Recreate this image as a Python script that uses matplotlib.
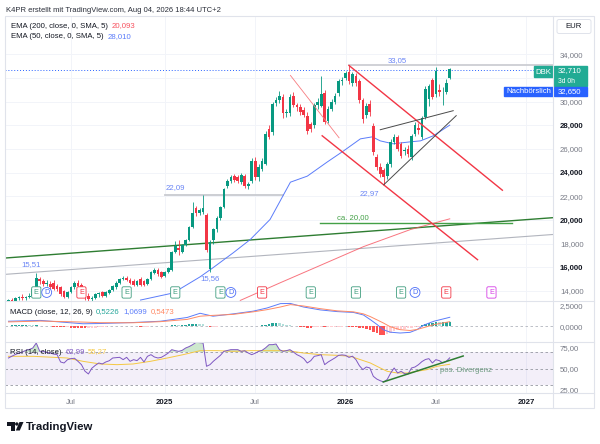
import numpy as np
import pandas as pd
import matplotlib
matplotlib.use("Agg")
import matplotlib.pyplot as plt
import matplotlib.dates as mdates
from matplotlib.patches import Rectangle, Polygon, Circle, FancyBboxPatch

plt.rcParams['font.family'] = ['Liberation Sans', 'DejaVu Sans']

# Wochenkerzen DBK
weeks = pd.date_range('2024-02-26', periods=128, freq='7D')

opens = [12.9, 13.2, 13.1, 13.4, 13.5, 13.4, 13.5, 13.6, 14.2, 15.0,
         14.8, 14.6, 14.6, 14.7, 14.4, 14.3, 14.0, 13.5, 13.9, 14.3,
         14.7, 14.5, 14.2, 13.6, 13.3, 13.4, 13.7, 13.9, 13.6, 13.8,
         14.1, 14.3, 14.7, 15.0, 15.1, 14.9, 14.8, 14.5, 15.0, 14.8,
         14.6, 15.0, 15.5, 15.8, 15.6, 15.3, 15.6, 15.8, 17.3, 17.6,
         17.3, 17.9, 18.3, 19.4, 21.0, 20.6, 20.7, 20.4, 15.85, 18.3,
         19.2, 20.2, 21.1, 22.9, 23.3, 23.7, 23.6, 23.2, 23.7, 22.9,
         23.3, 25.0, 23.6, 24.3, 24.7, 27.7, 27.4, 29.9, 30.1, 30.4,
         29.0, 29.0, 30.5, 29.7, 29.5, 29.3, 28.8, 28.1, 28.0, 29.7,
         29.6, 30.7, 28.4, 29.4, 30.0, 30.7, 31.7, 32.0, 32.5, 31.6,
         32.2, 31.7, 30.1, 28.9, 29.8, 27.9, 25.3, 24.5, 24.2, 23.7,
         24.7, 26.6, 27.0, 26.4, 25.8, 26.0, 25.3, 27.3, 27.8, 27.0,
         28.7, 30.2, 31.8, 30.6, 31.0, 30.7, 30.8, 32.0]
highs = [13.3, 13.4, 13.5, 13.6, 13.7, 13.6, 13.8, 14.3, 15.5, 15.2,
         15.0, 14.9, 14.8, 14.9, 14.6, 14.4, 14.1, 14.0, 14.4, 14.8,
         14.9, 14.7, 14.3, 13.8, 13.6, 13.8, 13.9, 14.0, 14.0, 14.2,
         14.5, 14.8, 15.1, 15.3, 15.3, 15.1, 15.0, 14.9, 15.2, 14.9,
         15.1, 15.7, 15.9, 15.9, 15.7, 15.7, 16.0, 17.4, 18.2, 18.3,
         18.0, 18.4, 19.5, 21.5, 21.2, 21.0, 22.09, 20.6, 18.3, 19.3,
         20.3, 21.2, 22.7, 23.5, 23.8, 23.9, 23.8, 24.0, 23.9, 23.2,
         25.2, 25.3, 24.7, 25.2, 27.5, 28.0, 30.0, 30.4, 30.9, 30.6,
         29.4, 30.6, 30.8, 29.9, 29.8, 29.5, 29.1, 28.3, 29.9, 30.3,
         32.2, 31.0, 29.6, 30.2, 30.7, 31.9, 32.1, 32.6, 33.05, 32.5,
         32.4, 31.9, 30.3, 29.9, 30.1, 28.2, 25.6, 24.8, 24.4, 24.9,
         26.8, 27.3, 27.2, 26.6, 26.2, 26.3, 27.3, 28.3, 28.2, 28.8,
         31.3, 31.5, 32.0, 32.9, 31.5, 31.2, 31.9, 32.8]
lows = [12.7, 12.9, 13.0, 13.2, 13.2, 13.2, 13.4, 13.5, 14.1, 14.6,
        14.4, 14.4, 14.2, 14.1, 14.0, 13.6, 13.4, 13.4, 13.8, 14.2,
        14.3, 14.0, 13.2, 13.1, 13.1, 13.3, 13.5, 13.5, 13.5, 13.7,
        14.0, 14.2, 14.6, 14.9, 14.8, 14.6, 14.4, 14.4, 14.4, 14.4,
        14.5, 14.9, 15.4, 15.3, 15.1, 15.2, 15.5, 15.7, 17.2, 17.0,
        17.2, 17.8, 18.2, 19.3, 20.3, 20.4, 20.5, 17.3, 15.56, 18.0,
        19.0, 20.0, 21.0, 22.7, 23.1, 23.2, 23.1, 23.0, 22.7, 22.6,
        23.1, 23.4, 23.3, 24.1, 24.6, 26.8, 27.2, 29.6, 29.9, 28.6,
        28.7, 28.8, 29.5, 29.2, 28.9, 28.7, 27.3, 27.4, 27.8, 29.4,
        29.5, 28.1, 28.2, 29.2, 29.8, 30.5, 31.4, 31.8, 31.5, 31.3,
        31.3, 29.9, 28.2, 28.6, 28.8, 25.5, 24.2, 23.6, 22.97, 23.5,
        24.5, 26.4, 25.8, 25.2, 25.5, 25.3, 25.1, 27.1, 27.3, 26.8,
        28.5, 29.6, 30.2, 30.4, 30.5, 29.7, 30.6, 31.9]
closes = [13.2, 13.1, 13.4, 13.5, 13.4, 13.5, 13.6, 14.2, 15.1, 14.8,
          14.6, 14.7, 14.3, 14.2, 14.2, 13.7, 13.5, 13.9, 14.3, 14.7,
          14.4, 14.2, 13.7, 13.3, 13.4, 13.7, 13.8, 13.6, 13.9, 14.1,
          14.4, 14.7, 15.0, 15.1, 14.9, 14.7, 14.5, 14.8, 14.5, 14.5,
          15.0, 15.6, 15.8, 15.4, 15.2, 15.6, 15.9, 17.3, 17.8, 17.5,
          17.9, 18.3, 19.4, 20.6, 20.6, 20.8, 21.0, 17.5, 18.1, 19.2,
          20.2, 21.1, 22.6, 23.3, 23.6, 23.4, 23.3, 23.8, 22.9, 23.0,
          25.0, 23.6, 24.5, 25.0, 27.3, 27.0, 29.8, 30.1, 30.5, 29.0,
          29.1, 30.4, 29.7, 29.5, 29.1, 28.9, 27.5, 27.7, 29.7, 30.0,
          30.6, 28.3, 29.4, 30.0, 30.5, 31.7, 31.8, 32.4, 31.7, 32.3,
          31.6, 30.1, 28.5, 29.6, 29.1, 25.7, 24.5, 23.9, 23.6, 24.7,
          26.6, 27.0, 26.0, 25.4, 25.9, 25.6, 27.1, 28.0, 27.6, 28.6,
          31.1, 31.3, 30.4, 32.6, 30.8, 30.7, 31.6, 32.71]

ema50_dates = ['2024-11-18', '2025-01-23', '2025-03-18', '2025-04-13', '2025-05-24',
               '2025-06-27', '2025-08-06', '2025-09-16', '2025-10-20', '2025-11-29',
               '2026-01-01', '2026-02-04', '2026-02-28', '2026-03-16', '2026-04-11',
               '2026-05-16', '2026-06-05', '2026-07-01', '2026-08-03']
ema50_vals = [13.23, 13.83, 15.19, 15.96, 17.23, 18.34, 20.04, 23.19, 23.70, 24.89,
              25.83, 26.85, 27.02, 26.68, 26.43, 26.60, 26.68, 27.11, 28.01]
ema200_dates = ['2025-06-07', '2025-08-27', '2025-10-26', '2026-02-10', '2026-05-16', '2026-08-03']
ema200_vals = [13.2, 14.7, 15.79, 17.74, 19.19, 20.093]

macd_dates = ['2024-02-26', '2024-04-30', '2024-06-23', '2024-07-25', '2024-08-29',
              '2024-11-03', '2024-12-28', '2025-02-20', '2025-03-18', '2025-04-13',
              '2025-05-24', '2025-07-03', '2025-07-31', '2025-08-27', '2025-09-16',
              '2025-10-12', '2025-11-15', '2025-12-19', '2026-01-21', '2026-02-10',
              '2026-02-24', '2026-03-10', '2026-03-22', '2026-04-05', '2026-04-25',
              '2026-05-15', '2026-05-29', '2026-06-12', '2026-07-02', '2026-08-03']
macd_vals = [0.60, 0.70, 0.45, 0.30, 0.33, 0.45, 0.60, 1.05, 1.55, 1.20,
             1.48, 1.80, 2.18, 2.70, 2.72, 2.30, 1.95, 1.75, 1.65, 1.35,
             0.79, 0.19, -0.40, -0.70, -0.80, -0.72, -0.40, 0.15, 0.60, 1.0699]
signal_vals = [0.52, 0.62, 0.55, 0.50, 0.43, 0.42, 0.55, 0.82, 1.20, 1.30,
               1.42, 1.72, 1.98, 2.30, 2.58, 2.42, 2.10, 1.84, 1.72, 1.48,
               1.15, 0.75, 0.40, -0.05, -0.40, -0.50, -0.38, -0.15, 0.20, 0.5473]
hist_vals = [0.08, 0.10, 0.10, 0.12, 0.15, 0.15, 0.12, 0.10, 0.12, 0.08,
             0.05, 0.03, 0.02, -0.03, -0.06, -0.08, -0.12, -0.12, -0.15, -0.18,
             -0.20, -0.22, -0.25, -0.25, -0.20, -0.15, -0.10, -0.08, -0.05, -0.02,
             0.02, 0.05, 0.08, 0.08, 0.05, 0.02, 0.00, -0.02, -0.05, -0.05,
             -0.03, 0.00, 0.03, 0.02, 0.02, 0.03, 0.06, 0.12, 0.15, 0.14,
             0.15, 0.18, 0.22, 0.30, 0.32, 0.30, 0.28, 0.05, -0.10, -0.08,
             -0.03, 0.02, 0.05, 0.08, 0.08, 0.06, 0.05, 0.05, 0.03, 0.03,
             0.08, 0.06, 0.08, 0.10, 0.20, 0.25, 0.35, 0.38, 0.35, 0.25,
             0.18, 0.15, 0.08, 0.02, -0.05, -0.10, -0.15, -0.18, -0.12, -0.10,
             -0.08, -0.12, -0.12, -0.10, -0.08, -0.05, -0.03, -0.02, -0.05, -0.06,
             -0.08, -0.15, -0.25, -0.30, -0.40, -0.65, -0.85, -1.00, -1.05, -0.95,
             -0.75, -0.55, -0.45, -0.38, -0.30, -0.25, -0.15, -0.10, -0.05, 0.10,
             0.25, 0.40, 0.45, 0.50, 0.48, 0.50, 0.50, 0.5226]

rsi_vals = [62.8, 65.0, 67.0, 68.8, 70.0, 72.0, 73.0, 74.8, 80.8, 70.8,
            70.8, 69.5, 68.8, 67.5, 66.8, 58.0, 56.8, 60.8, 62.0, 62.5,
            58.8, 54.8, 47.0, 43.6, 50.5, 54.0, 56.8, 55.6, 58.0, 59.5,
            62.8, 63.2, 63.6, 60.8, 63.6, 58.8, 60.8, 59.6, 63.6, 58.0,
            64.8, 66.8, 64.0, 62.8, 63.6, 66.0, 68.8, 72.8, 71.6, 70.8,
            72.0, 74.8, 76.5, 78.8, 81.6, 81.2, 80.8, 52.8, 54.8, 59.0,
            62.5, 66.0, 70.8, 71.8, 72.8, 72.8, 72.8, 70.8, 71.5, 68.8,
            66.8, 68.5, 70.8, 72.0, 75.0, 78.8, 78.8, 79.6, 72.8, 70.8,
            71.6, 72.8, 70.0, 66.8, 64.8, 62.0, 56.8, 59.6, 64.8, 65.6,
            66.8, 54.8, 58.0, 60.5, 63.0, 66.0, 66.5, 66.0, 63.5, 65.0,
            60.8, 53.5, 48.8, 52.0, 50.8, 40.8, 37.5, 35.5, 34.0, 37.0,
            44.8, 50.8, 44.8, 46.8, 44.0, 43.5, 50.8, 52.0, 54.8, 58.5,
            61.0, 62.0, 56.8, 60.8, 59.6, 56.8, 58.8, 62.99]
rsi_ma_dates = ['2024-02-26', '2024-04-16', '2024-06-23', '2024-07-25', '2024-08-29',
                '2024-10-02', '2024-11-03', '2024-12-08', '2025-01-11', '2025-02-12',
                '2025-03-18', '2025-04-21', '2025-05-24', '2025-06-27', '2025-08-06',
                '2025-09-10', '2025-10-12', '2025-11-15', '2025-12-19', '2026-01-15',
                '2026-02-04', '2026-02-24', '2026-03-16', '2026-03-30', '2026-04-19',
                '2026-05-09', '2026-05-29', '2026-06-18', '2026-07-08', '2026-08-03']
rsi_ma_vals = [64.8, 64.8, 62.8, 58.8, 55.6, 54.8, 55.6, 58.8, 62.8, 66.8,
               71.6, 71.6, 70.8, 71.6, 71.6, 71.6, 68.8, 66.8, 66.0, 64.8,
               60.8, 56.8, 50.8, 46.8, 44.8, 44.8, 46.8, 48.8, 52.8, 55.27]

# Ereignisse: E = Earnings, D = Dividende, Farbe nach Ergebnis
events = [('2024-04-22', 'E', 'g'), ('2024-05-13', 'D', 'b'), ('2024-07-22', 'E', 'r'),
          ('2024-10-21', 'E', 'g'), ('2025-01-27', 'E', 'g'), ('2025-04-28', 'E', 'g'),
          ('2025-05-19', 'D', 'b'), ('2025-07-21', 'E', 'r'), ('2025-10-27', 'E', 'g'),
          ('2026-01-26', 'E', 'g'), ('2026-04-27', 'E', 'g'), ('2026-05-25', 'D', 'b'),
          ('2026-07-27', 'E', 'r'), ('2026-10-26', 'E', 'm')]

UP, DOWN = '#089981', '#f23645'
BLUE_TXT = '#6a85f5'
GRID = '#f2f4f9'
W, H = 600, 444
FS = 5.6


def rect(x0, y0, x1, y1):
    return [x0 / W, 1 - y1 / H, (x1 - x0) / W, (y1 - y0) / H]


def d(s):
    return mdates.date2num(pd.to_datetime(s))


fig = plt.figure(figsize=(6, 4.44), dpi=100)
ax = fig.add_axes(rect(5, 16, 553, 301))
axm = fig.add_axes(rect(5, 301, 553, 342), sharex=ax)
axr = fig.add_axes(rect(5, 342, 553, 393), sharex=ax)

xticks = d(['2024-07-01', '2025-01-06', '2025-07-07', '2026-01-05', '2026-07-06', '2027-01-04'])
xlabels = ['Jul', '2025', 'Jul', '2026', 'Jul', '2027']

for a in (ax, axm, axr):
    for s in a.spines.values():
        s.set_visible(False)
    a.set_xticks(xticks)
    a.grid(axis='x', color=GRID, lw=0.7)
    a.yaxis.tick_right()
    a.tick_params(length=0, labelsize=FS, labelcolor='#787b86', pad=5)
    a.set_axisbelow(True)
ax.set_xlim(d('2024-02-19'), d('2027-02-27'))
ax.tick_params(labelbottom=False)
axm.tick_params(labelbottom=False)
axr.set_xticklabels(xlabels)
axr.tick_params(axis='x', pad=4)
for lab in axr.get_xticklabels():
    if lab.get_text().isdigit():
        lab.set_fontweight('bold')
        lab.set_color('#131722')

# ---- Hauptchart ----
x = d(weeks)
o, h, l, c = map(np.array, (opens, highs, lows, closes))
col = np.where(c >= o, UP, DOWN)
ax.set_ylim(13.15, 37.23)
yt = np.arange(14, 35, 2)
ax.set_yticks(yt)
# 32,000 liegt unter den Kursschildern und ist im Original nicht sichtbar
ax.set_yticklabels(['' if v == 32 else f'{v:.3f}'.replace('.', ',') for v in yt])
for v, lab in zip(yt, ax.get_yticklabels()):
    if v in (16, 20, 24, 28):
        lab.set_fontweight('bold')
        lab.set_color('#131722')
ax.grid(axis='y', color=GRID, lw=0.7)

ax.plot(d(['2024-02-19', '2027-02-27']), [16.78, 20.19], color='#2e7d32', lw=1.0, zorder=2)
ax.plot(d(['2024-02-19', '2027-02-27']), [15.40, 18.77], color='#b2b5be', lw=0.8, zorder=2)
ax.plot(d(['2025-11-15', '2026-12-07']), [19.75, 19.75], color='#43a047', lw=1.0, zorder=2)
ax.plot(d(['2025-01-07', '2025-09-02']), [22.09, 22.09], color='#c8cad0', lw=1.3, zorder=2)
ax.plot(d(['2026-01-12', '2027-02-27']), [33.05, 33.05], color='#c8cad0', lw=1.2, zorder=2)
ax.axhline(32.65, color='#2962ff', lw=0.7, ls=(0, (1, 2)), zorder=2)

ax.plot(d(ema200_dates), ema200_vals, color='#f7525f', lw=0.7, alpha=0.8, zorder=2)
ax.plot(d(ema50_dates), ema50_vals, color='#5b7cfa', lw=0.7, zorder=2)

ax.vlines(x, l, h, colors=col, lw=0.6, zorder=3)
ax.bar(x, np.maximum(np.abs(c - o), 0.05), bottom=np.minimum(o, c), width=5.4,
       color=col, zorder=4)

ax.plot(d(['2026-01-12', '2026-11-17']), [33.05, 22.51], color='#f23645', lw=1.0, zorder=5)
ax.plot(d(['2025-11-19', '2026-09-28']), [27.11, 16.64], color='#f23645', lw=1.0, zorder=5)
ax.plot(d(['2025-09-16', '2025-12-23']), [32.21, 26.94], color='#f77c80', lw=0.6, zorder=5)
ax.plot(d(['2026-03-16', '2026-08-10']), [27.62, 29.23], color='#4a4a4a', lw=0.7, zorder=5)
ax.plot(d(['2026-03-23', '2026-08-16']), [22.97, 28.81], color='#4a4a4a', lw=0.7, zorder=5)

ax.text(d('2026-04-19'), 33.49, '33,05', color=BLUE_TXT, fontsize=FS, ha='center', va='center')
ax.text(d('2025-01-07'), 22.77, '22,09', color=BLUE_TXT, fontsize=FS, ha='left', va='center')
ax.text(d('2024-03-23'), 16.21, '15,51', color=BLUE_TXT, fontsize=FS, ha='left', va='center')
ax.text(d('2025-04-07'), 15.02, '15,56', color=BLUE_TXT, fontsize=FS, ha='center', va='center')
ax.text(d('2026-02-22'), 22.26, '22,97', color=BLUE_TXT, fontsize=FS, ha='center', va='center')
ax.text(d('2025-12-19'), 20.21, 'ca. 20,00', color='#43a047', fontsize=FS, ha='left', va='center')

ev_col = {'g': '#3f9d7f', 'b': '#4a6cf7', 'r': '#f23645', 'm': '#d53ee6'}
tr = ax.get_xaxis_transform()
for ds, letter, k in events:
    style = 'circle,pad=0.2' if letter == 'D' else 'round,pad=0.3,rounding_size=0.2'
    ax.text(d(ds), 0.03, letter, transform=tr, fontsize=5.2, color=ev_col[k],
            ha='center', va='center', zorder=6,
            bbox=dict(boxstyle=style, fc='white', ec=ev_col[k], lw=0.6))

# ---- MACD ----
axm.set_ylim(-1.87, 3.01)
axm.set_yticks([0, 2.5])
axm.set_yticklabels(['0,0000', '2,5000'])
axm.axhline(0, color='#b2b5be', lw=0.6, ls=(0, (3, 3)))
hv = np.array(hist_vals)
prev = np.concatenate([[hv[0]], hv[:-1]])
hcol = np.where(hv >= 0, np.where(hv >= prev, '#26a69a', '#b2dfdb'),
                np.where(hv < prev, '#ff5252', '#ffcdd2'))
axm.bar(x, hv, width=5, color=hcol, zorder=2)
axm.plot(d(macd_dates), macd_vals, color='#5b7cfa', lw=0.7, zorder=3)
axm.plot(d(macd_dates), signal_vals, color='#ff8a65', lw=0.7, zorder=3)

# ---- RSI ----
axr.set_ylim(20.75, 82.0)
axr.set_yticks([25, 50, 75])
axr.set_yticklabels(['25,00', '50,00', '75,00'])
axr.axhspan(30, 70, color='#7e57c2', alpha=0.09, lw=0)
for lv in (30, 50, 70):
    axr.axhline(lv, color='#9598a1', lw=0.6, ls=(0, (3, 3)))
rv = np.array(rsi_vals)
axr.fill_between(x, rv, 70, where=rv > 70, interpolate=True, color='#a5d6a7', alpha=0.55, lw=0)
axr.plot(d(rsi_ma_dates), rsi_ma_vals, color='#f5c842', lw=0.7, zorder=3)
axr.plot(x, rv, color='#7e57c2', lw=0.7, zorder=4)
axr.plot(d(['2026-03-22', '2026-08-30']), [34.0, 65.2], color='#2e7d32', lw=1.1, zorder=5)
axr.text(d('2026-07-14'), 47.5, 'pos. Divergenz', color='#6d9a80', fontsize=FS, va='center')

# ---- Rahmen, Legenden, Preisschilder ----
ov = fig.add_axes([0, 0, 1, 1])
ov.set_xlim(0, W)
ov.set_ylim(H, 0)
ov.axis('off')
ov.patch.set_alpha(0)
ov.set_zorder(10)

fc = '#e0e3eb'
ov.add_patch(Rectangle((5, 16), 589, 392, fill=False, ec=fc, lw=0.8))
for yy in (301, 342, 393):
    ov.plot([5, 594], [yy, yy], color=fc, lw=0.8)
ov.plot([553, 553], [16, 408], color=fc, lw=0.8)

tc = '#131722'
ov.text(6, 11, 'K4PR erstellt mit TradingView.com, Aug 04, 2026 18:44 UTC+2',
        fontsize=5.5, color='#2a2e39', va='center')

fig.canvas.draw()
rend = fig.canvas.get_renderer()


def legend_row(x0, y0, parts):
    # Text-Stücke nebeneinander, jeweils mit kleinem Abstand
    xx = x0
    for txt, colr in parts:
        t = ov.text(xx, y0, txt, fontsize=FS, color=colr, va='center')
        bb = t.get_window_extent(rend)
        xx = ov.transData.inverted().transform((bb.x1, 0))[0] + 3.5


legend_row(11, 26, [('EMA (200, close, 0, SMA, 5)', tc), ('20,093', '#f7525f')])
legend_row(11, 36.5, [('EMA (50, close, 0, SMA, 5)', tc), ('28,010', '#5b7cfa')])
legend_row(10, 312, [('MACD (close, 12, 26, 9)', tc), ('0,5226', '#26a69a'),
                     ('1,0699', '#5b7cfa'), ('0,5473', '#ff8a65')])
legend_row(10, 352, [('RSI (14, close)', tc), ('62,99', '#7e57c2'), ('55,27', '#f5c842')])

ov.add_patch(FancyBboxPatch((557, 19.5), 34, 14, boxstyle='round,pad=0,rounding_size=2',
                            fc='white', ec=fc, lw=0.7))
ov.text(574, 27, 'EUR', fontsize=FS, color=tc, ha='center', va='center')

teal, blue = '#22ab94', '#2962ff'
ov.add_patch(Rectangle((534, 66.5), 19, 10.5, color=teal))
ov.text(543.5, 72, 'DBK', fontsize=FS, color='white', ha='center', va='center')
ov.add_patch(Rectangle((554, 66), 33, 20.5, color=teal))
ov.text(558, 71, '32,710', fontsize=FS, color='white', va='center')
ov.text(558, 81.5, '3d 0h', fontsize=4.9, color='white', va='center')
ov.add_patch(Rectangle((504, 87), 49, 9.5, color=blue))
ov.text(528.5, 91.8, 'Nachbörslich', fontsize=FS, color='white', ha='center', va='center')
ov.add_patch(Rectangle((554, 87), 33, 9.5, color=blue))
ov.text(558, 91.8, '32,650', fontsize=FS, color='white', va='center')

# TradingView Logo
ov.add_patch(Polygon([(7, 422), (14.5, 422), (14.5, 430.5), (11, 430.5), (11, 425.5), (7, 425.5)],
                     closed=True, color=tc, lw=0))
ov.add_patch(Circle((16.8, 424), 1.7, color=tc, lw=0))
ov.add_patch(Polygon([(19.5, 422), (23.5, 422), (19.8, 430.5), (15.8, 430.5)],
                     closed=True, color=tc, lw=0))
ov.text(26, 426.5, 'TradingView', fontsize=8.2, color=tc, va='center', fontweight='bold')

fig.savefig('out.png', dpi=100)
